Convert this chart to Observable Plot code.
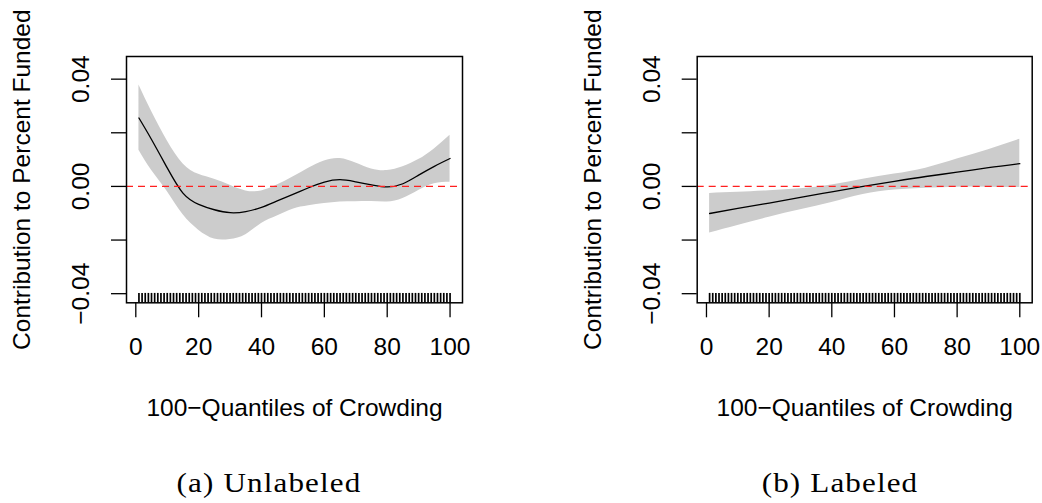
<!DOCTYPE html>
<html>
<head>
<meta charset="utf-8">
<script src="https://cdn.jsdelivr.net/npm/d3@7"></script>
<script src="https://cdn.jsdelivr.net/npm/@observablehq/plot@0.6"></script>
<style>
  html, body { margin: 0; padding: 0; background: #fff; }
  #root { position: relative; width: 1042px; height: 503px; overflow: hidden; }
  .panel { position: absolute; top: 0; }
  .cap { position: absolute; width: 300px; text-align: center; font-family: "Liberation Serif", "Times New Roman", serif;
         font-size: 27px; line-height: 27px; letter-spacing: 1px; color: #000; transform: scaleX(1.15); transform-origin: center; white-space: nowrap; }
</style>
</head>
<body>
<div id="root"></div>
<script>
// ---- data ----
const xA = [1, 5, 10, 15, 20, 25, 30, 35, 40, 45, 50, 55, 60, 65, 70, 75, 80, 85, 90, 95, 100];
const fitA = [0.0255, 0.0175, 0.0069, -0.0025, -0.0067, -0.0087, -0.0098, -0.0094, -0.0078, -0.0054, -0.0030, -0.0005, 0.0016, 0.0025, 0.0017, 0.0006, -0.0002, 0.0010, 0.0042, 0.0075, 0.0104];
const upperA = [0.0378, 0.0280, 0.0170, 0.0085, 0.0045, 0.0027, 0.0004, -0.0017, -0.0017, 0.0005, 0.0035, 0.0068, 0.0095, 0.0104, 0.0087, 0.0065, 0.0059, 0.0073, 0.0100, 0.0140, 0.0191];
const lowerA = [0.0135, 0.0060, -0.0019, -0.0105, -0.0163, -0.0196, -0.0198, -0.0180, -0.0138, -0.0110, -0.0085, -0.0072, -0.0064, -0.0058, -0.0057, -0.0056, -0.0058, -0.0045, -0.0015, 0.0010, 0.0016];

const xB = [1, 10, 20, 30, 40, 50, 60, 70, 80, 90, 100];
const fitB = [-0.0101, -0.0082, -0.0062, -0.0041, -0.0020, 0.0000, 0.0019, 0.0037, 0.0053, 0.0070, 0.0085];
const upperB = [-0.0026, -0.0022, -0.0016, -0.0009, 0.0005, 0.0027, 0.0046, 0.0068, 0.0102, 0.0137, 0.0176];
const lowerB = [-0.0174, -0.0146, -0.0115, -0.0087, -0.0060, -0.0030, -0.0013, -0.0007, -0.0003, -0.0003, -0.0004];

const rugX = [1,2,3,4,5,6,7,8,9,10,11,12,13,14,15,16,17,18,19,20,21,22,23,24,25,26,27,28,29,30,
  31,32,33,34,35,36,37,38,39,40,41,42,43,44,45,46,47,48,49,50,51,52,53,54,55,56,57,58,59,60,
  61,62,63,64,65,66,67,68,69,70,71,72,73,74,75,76,77,78,79,80,81,82,83,84,85,86,87,88,89,90,
  91,92,93,94,95,96,97,98,99,100];

const xTicks = [0, 20, 40, 60, 80, 100];
const yTicks = [-0.04, -0.02, 0, 0.02, 0.04];
const yLabelValues = [-0.04, 0, 0.04];
const yLabelText = ["\u22120.04", "0.00", "0.04"];
const xTitle = "100\u2212Quantiles of Crowding";
const yTitle = "Contribution to Percent Funded";
const captions = ["(a) Unlabeled", "(b) Labeled"];

// ---- drawing ----
const FONT = "'Liberation Sans', Arial, Helvetica, sans-serif";
const FS = 24.5;
const xDomain = [-2.96, 103.96];
const yDomain = [-0.0434, 0.04845];
const rugLen = 0.0035;

function panel(xs, fit, upper, lower, opts) {
  const rows = xs.map((x, i) => ({x, fit: fit[i], upper: upper[i], lower: lower[i]}));
  const yLab = yLabelValues.map((v, i) => ({v, t: yLabelText[i]}));
  return Plot.plot({
    width: opts.width,
    height: 440,
    marginTop: 56,
    marginBottom: 137.7,
    marginLeft: opts.ml,
    marginRight: opts.mr,
    style: {fontFamily: FONT, background: "transparent", overflow: "visible"},
    x: {domain: xDomain},
    y: {domain: yDomain},
    marks: [
      Plot.areaY(rows, {x: "x", y1: "lower", y2: "upper", fill: "#cccccc", curve: "natural"}),
      Plot.line(rows, {x: "x", y: "fit", stroke: "#000", strokeWidth: 1.3, curve: "natural"}),
      Plot.ruleY([0], {stroke: "#ff2020", strokeWidth: 1.4, strokeDasharray: "7,5"}),
      Plot.ruleX(rugX, {x: d => d, y1: () => yDomain[0], y2: () => yDomain[0] + rugLen, stroke: "#000", strokeWidth: 1.7}),
      Plot.axisX({ticks: xTicks, tickSize: 15, tickFormat: () => "", label: null, strokeWidth: 1.3}),
      Plot.axisY({ticks: yTicks, tickSize: 15, tickFormat: () => "", label: null, strokeWidth: 1.3}),
      Plot.text(xTicks, {x: d => d, text: d => String(d), frameAnchor: "bottom", dy: 44.7, lineAnchor: "middle",
        fontSize: FS, fill: "#000"}),
      Plot.text(yLab, {y: "v", text: "t", frameAnchor: "left", dx: -45, rotate: -90, lineAnchor: "middle",
        textAnchor: "middle", fontSize: FS, fill: "#000"}),
      Plot.text([xTitle], {text: d => d, frameAnchor: "bottom", dy: 105.7, lineAnchor: "middle", fontSize: FS, fill: "#000"}),
      Plot.text([yTitle], {text: d => d, frameAnchor: "left", dx: -104.3, rotate: -90, lineAnchor: "middle",
        textAnchor: "middle", fontSize: FS, fill: "#000"}),
      Plot.frame({stroke: "#000", strokeWidth: 1.5})
    ]
  });
}

const root = document.getElementById("root");
const p1 = panel(xA, fitA, upperA, lowerA, {width: 570, ml: 126, mr: 108});
const p2 = panel(xB, fitB, upperB, lowerB, {width: 472, ml: 126.7, mr: 10.3});
const d1 = document.createElement("div"); d1.className = "panel"; d1.style.left = "0px"; d1.appendChild(p1);
const d2 = document.createElement("div"); d2.className = "panel"; d2.style.left = "570px"; d2.appendChild(p2);
root.appendChild(d1); root.appendChild(d2);

const capCenters = [268.5, 840];
captions.forEach((c, i) => {
  const el = document.createElement("div");
  el.className = "cap";
  el.textContent = c;
  el.style.left = (capCenters[i] - 150) + "px";
  el.style.top = "470px";
  root.appendChild(el);
});
</script>
</body>
</html>
